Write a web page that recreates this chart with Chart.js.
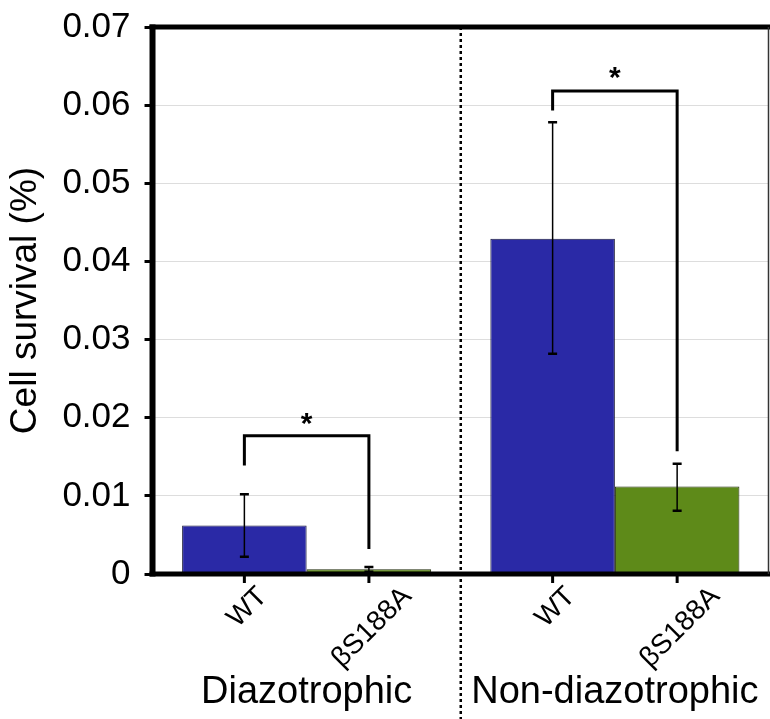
<!DOCTYPE html>
<html>
<head>
<meta charset="utf-8">
<script src="https://cdn.jsdelivr.net/npm/chart.js@4"></script>
<style>
  body { margin: 0; background: #fff; }
  #wrap { width: 770px; height: 719px; }
</style>
</head>
<body>
<div id="wrap"><canvas id="survivalChart"></canvas></div>
<script>
const groups = ["Diazotrophic", "Non-diazotrophic"];
const strains = ["WT", "βS188A"];

// mean and error range per group
const wtMean = [0.0062, 0.0429];
const wtLow = [0.0022, 0.0282];
const wtHigh = [0.0102, 0.0578];
const mutMean = [0.0006, 0.0112];
const mutLow = [0.0003, 0.0081];
const mutHigh = [0.0009, 0.0141];

// significance brackets (y values in %)
const bracketTop = [0.0177, 0.0618];
const bracketLeftEnd = [0.0139, 0.0593];
const bracketRightEnd = [0.0032, 0.0157];
const starY = [0.0200, 0.0642];
const starText = ["*", "*"];

const yMin = 0;
const yMax = 0.07;
const yStep = 0.01;

const FONT = "'Liberation Sans', Arial, Helvetica, sans-serif";

const overlay = {
  id: "overlay",
  afterDatasetsDraw(chart) {
    const { ctx, chartArea: a, scales: { x, y } } = chart;
    const bars = [chart.getDatasetMeta(0).data, chart.getDatasetMeta(1).data];
    const lows = [wtLow, mutLow];
    const highs = [wtHigh, mutHigh];

    ctx.save();
    ctx.strokeStyle = "#000";
    ctx.fillStyle = "#000";

    // error bars
    for (let s = 0; s < 2; s++) {
      for (let i = 0; i < groups.length; i++) {
        const bx = bars[s][i].x;
        const y1 = y.getPixelForValue(lows[s][i]);
        const y2 = y.getPixelForValue(highs[s][i]);
        ctx.lineWidth = 1.5;
        ctx.beginPath();
        ctx.moveTo(bx, y1);
        ctx.lineTo(bx, y2);
        ctx.stroke();
        ctx.lineWidth = 2.5;
        ctx.beginPath();
        ctx.moveTo(bx - 4.5, y1); ctx.lineTo(bx + 4.5, y1);
        ctx.moveTo(bx - 4.5, y2); ctx.lineTo(bx + 4.5, y2);
        ctx.stroke();
      }
    }

    // brackets and stars
    for (let i = 0; i < groups.length; i++) {
      const lx = bars[0][i].x;
      const rx = bars[1][i].x;
      const top = y.getPixelForValue(bracketTop[i]);
      ctx.lineWidth = 3;
      ctx.lineJoin = "miter";
      ctx.beginPath();
      ctx.moveTo(lx, y.getPixelForValue(bracketLeftEnd[i]));
      ctx.lineTo(lx, top);
      ctx.lineTo(rx, top);
      ctx.lineTo(rx, y.getPixelForValue(bracketRightEnd[i]));
      ctx.stroke();
      ctx.font = "bold 30px " + FONT;
      ctx.textAlign = "center";
      ctx.textBaseline = "alphabetic";
      ctx.fillText(starText[i], (lx + rx) / 2, y.getPixelForValue(starY[i]) + 15);
    }

    // frame
    ctx.lineWidth = 5;
    ctx.beginPath();
    ctx.moveTo(a.left - 3, a.top);
    ctx.lineTo(a.right + 1, a.top);
    ctx.moveTo(a.left - 3, a.bottom);
    ctx.lineTo(a.right + 1, a.bottom);
    ctx.stroke();
    ctx.lineWidth = 6;
    ctx.beginPath();
    ctx.moveTo(a.left, a.top - 2.5);
    ctx.lineTo(a.left, a.bottom + 2.5);
    ctx.stroke();
    ctx.lineWidth = 1.5;
    ctx.strokeStyle = "#333";
    ctx.beginPath();
    ctx.moveTo(a.right - 0.5, a.top);
    ctx.lineTo(a.right - 0.5, a.bottom);
    ctx.stroke();

    // group separator
    const sepX = x.getPixelForValue(0.5);
    ctx.strokeStyle = "#000";
    ctx.lineWidth = 2.5;
    ctx.setLineDash([3, 3]);
    ctx.beginPath();
    ctx.moveTo(sepX, a.top);
    ctx.lineTo(sepX, chart.height);
    ctx.stroke();
    ctx.setLineDash([]);

    // strain ticks and rotated strain labels
    ctx.font = "28px " + FONT;
    ctx.textAlign = "center";
    ctx.textBaseline = "middle";
    for (let s = 0; s < 2; s++) {
      for (let i = 0; i < groups.length; i++) {
        const bx = bars[s][i].x;
        ctx.lineWidth = 3;
        ctx.beginPath();
        ctx.moveTo(bx, a.bottom);
        ctx.lineTo(bx, a.bottom + 9);
        ctx.stroke();
        const w = ctx.measureText(strains[s]).width;
        const half = (w + 28 * 0.716) * 0.7071 / 2;
        ctx.save();
        ctx.translate(bx + 3, a.bottom + 11 + half);
        ctx.rotate(-Math.PI / 4);
        ctx.fillText(strains[s], 0, 0);
        ctx.restore();
      }
    }

    // group labels under the category centres
    ctx.font = "38px " + FONT;
    ctx.textAlign = "center";
    ctx.textBaseline = "alphabetic";
    for (let i = 0; i < groups.length; i++) {
      ctx.fillText(groups[i], x.getPixelForValue(i), a.bottom + 129);
    }
    ctx.restore();
  }
};

new Chart(document.getElementById("survivalChart"), {
  type: "bar",
  data: {
    labels: groups,
    datasets: [
      {
        label: strains[0],
        data: wtMean,
        backgroundColor: "#2A29A6",
        borderColor: "#1a1a3a",
        borderWidth: 1,
        categoryPercentage: 0.808,
        barPercentage: 1.0,
      },
      {
        label: strains[1],
        data: mutMean,
        backgroundColor: "#5E8A19",
        borderColor: "#1f2a0a",
        borderWidth: 1,
        categoryPercentage: 0.808,
        barPercentage: 1.0,
      },
    ],
  },
  options: {
    responsive: true,
    maintainAspectRatio: false,
    animation: false,
    layout: {
      padding: { top: 27, right: 1, bottom: 145, left: 0 },
    },
    plugins: {
      legend: { display: false },
      tooltip: { enabled: false },
    },
    scales: {
      x: {
        display: false,
      },
      y: {
        min: yMin,
        max: yMax,
        border: { display: false },
        grid: {
          color: "#dddddd",
          lineWidth: 1,
          tickColor: "#000",
          tickWidth: 3,
          tickLength: 8,
        },
        ticks: {
          stepSize: yStep,
          color: "#000",
          font: { family: FONT, size: 35, lineHeight: 0.6 },
          padding: 14,
          callback: (v) => (v === 0 ? "0" : v.toFixed(2)),
        },
        title: {
          display: true,
          text: "Cell survival (%)",
          color: "#000",
          font: { family: FONT, size: 37 },
          padding: { top: 4, bottom: 0 },
        },
      },
    },
  },
  plugins: [overlay],
});
</script>
</body>
</html>
